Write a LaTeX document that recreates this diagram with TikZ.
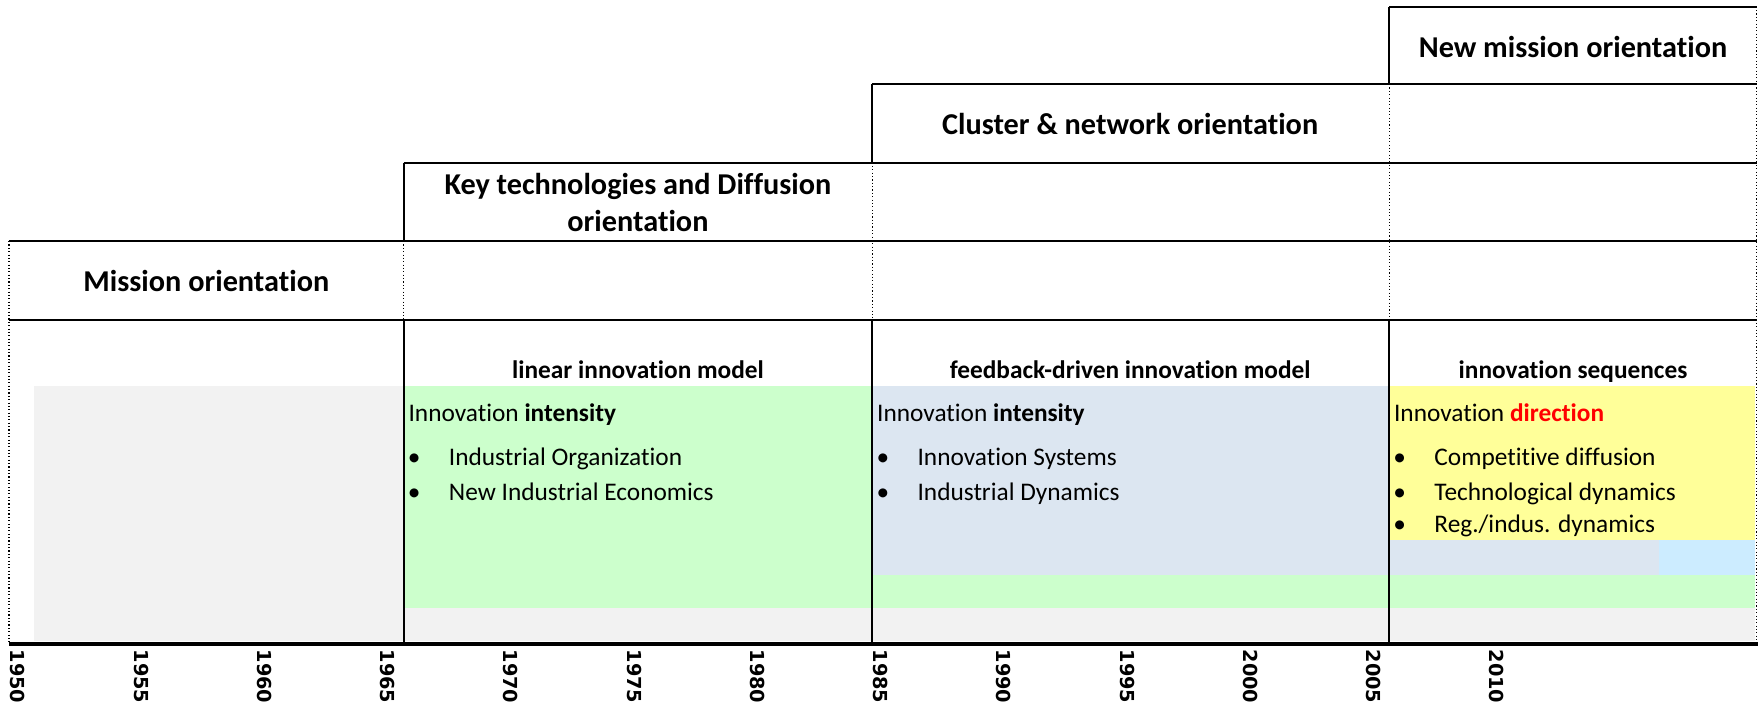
\documentclass[tikz,border=0pt]{standalone}
\usepackage{fontspec}
\setmainfont{Carlito}[Ligatures={NoCommon}]
\newfontfamily\yearfont{DejaVu Sans}
\usepackage{xcolor}
\definecolor{bgGray}{HTML}{F2F2F2}
\definecolor{bgGreen}{HTML}{CCFFCC}
\definecolor{bgBlue}{HTML}{DCE6F1}
\definecolor{bgSky}{HTML}{CCECFF}
\definecolor{bgYellow}{HTML}{FFFF99}
\definecolor{hotRed}{HTML}{FF0000}

\tikzset{
  frame/.style={line width=0.9pt},
  gridline/.style={densely dotted,line width=0.5pt},
  head/.style={font=\fontsize{13.5}{16.5}\selectfont\bfseries,align=center},
  subhead/.style={font=\fontsize{11.3}{13.5}\selectfont\bfseries,anchor=base,inner sep=0pt},
  bodytxt/.style={font=\fontsize{11.3}{13.5}\selectfont,anchor=base west,inner sep=0pt},
  bullet/.style={font=\fontsize{11.3}{13.5}\selectfont,anchor=base,inner sep=0pt},
  yearlbl/.style={font=\yearfont\fontsize{8.6}{10}\selectfont\bfseries,rotate=-90,anchor=west,inner sep=0pt}
}

\begin{document}
\begin{tikzpicture}[x=0.5pt,y=-0.5pt]
  \useasboundingbox (0,0) rectangle (1568,630);
  % background bands
  \fill[bgGray] (30,344) rectangle (1565,572);
  \fill[bgGreen] (360,344) rectangle (778,542);
  \fill[bgGreen] (778,513) rectangle (1565,542);
  \fill[bgBlue] (778,344) rectangle (1239,513);
  \fill[bgBlue] (1239,482) rectangle (1480,513);
  \fill[bgSky] (1480,482) rectangle (1565,513);
  \fill[bgYellow] (1239,344) rectangle (1565,482);

  % staircase of orientation boxes
  \draw[frame] (1239,6) -- (1567,6);
  \draw[frame] (778,75) -- (1567,75);
  \draw[frame] (360,145) -- (1567,145);
  \draw[frame] (8,215) -- (1567,215);
  \draw[frame] (8,285) -- (1567,285);
  \draw[frame] (360,145) -- (360,215) (360,285) -- (360,574);
  \draw[frame] (778,75) -- (778,145) (778,285) -- (778,574);
  \draw[frame] (1239,6) -- (1239,75) (1239,285) -- (1239,574);
  \draw[gridline] (8,215) -- (8,574);
  \draw[gridline] (360,215) -- (360,285);
  \draw[gridline] (778,145) -- (778,285);
  \draw[gridline] (1239,75) -- (1239,285);
  \draw[gridline] (1567,6) -- (1567,574);
  \draw[line width=1.8pt] (8,574) -- (1568,574);

  \node[head] (mission) at (184,251) {Mission orientation};
  \node[head] (keytech) at (569,181) {Key technologies and Diffusion\\orientation};
  \node[head] (cluster) at (1008,111) {Cluster \& network orientation};
  \node[head] (newmission) at (1403,42) {New mission orientation};

  % models
  \node[subhead] (lin) at (569,338) {linear innovation model};
  \node[subhead] (feed) at (1008,338) {feedback-driven innovation model};
  \node[subhead] (seq) at (1403,338) {innovation sequences};

  \node[bodytxt] (lin0) at (364,376) {Innovation \textbf{intensity}};
  \node[bullet] (lin1b) at (369.5,415) {•};
  \node[bodytxt] (lin1) at (400,415) {Industrial Organization};
  \node[bullet] (lin2b) at (369.5,446) {•};
  \node[bodytxt] (lin2) at (400,446) {New Industrial Economics};

  \node[bodytxt] (feed0) at (782,376) {Innovation \textbf{intensity}};
  \node[bullet] (feed1b) at (787.5,415) {•};
  \node[bodytxt] (feed1) at (818,415) {Innovation Systems};
  \node[bullet] (feed2b) at (787.5,446) {•};
  \node[bodytxt] (feed2) at (818,446) {Industrial Dynamics};

  \node[bodytxt] (seq0) at (1243,376) {Innovation \textcolor{hotRed}{\textbf{direction}}};
  \node[bullet] (seq1b) at (1248.5,415) {•};
  \node[bodytxt] (seq1) at (1279,415) {Competitive diffusion};
  \node[bullet] (seq2b) at (1248.5,446) {•};
  \node[bodytxt] (seq2) at (1279,446) {Technological dynamics};
  \node[bullet] (seq3b) at (1248.5,475) {•};
  \node[bodytxt] (seq3) at (1279,475) {Reg./indus. dynamics};

  % time axis
  \foreach \yr [count=\k from 0] in {1950,1955,...,2010}
    \node[yearlbl] (y\yr) at (16+109.93*\k,579) {\yr};
\end{tikzpicture}
\end{document}
